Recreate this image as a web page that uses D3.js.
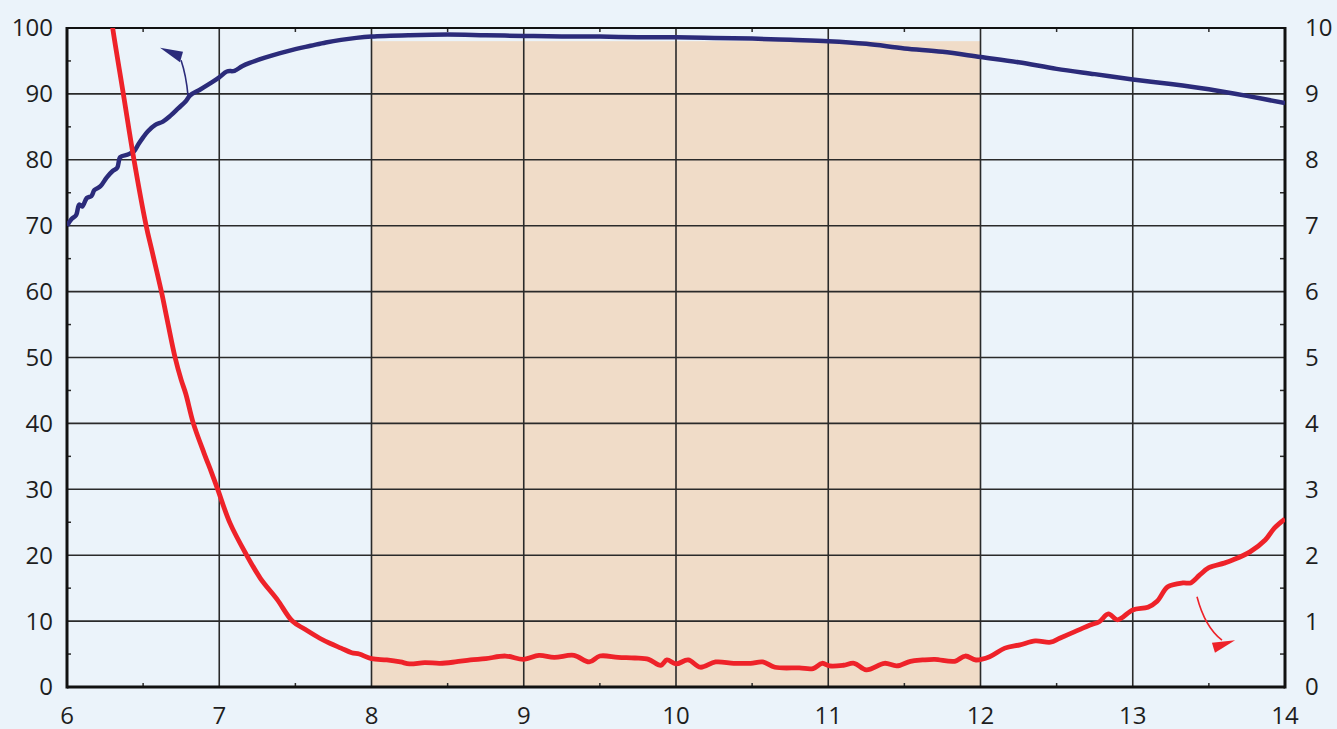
<!DOCTYPE html>
<html>
<head>
<meta charset="utf-8">
<script src="https://cdn.jsdelivr.net/npm/d3@7"></script>
<style>
  body { margin: 0; background: #ebf3fa; }
  text { font-family: "Open Sans", sans-serif; font-size: 24px; fill: #1e1e1e; }
</style>
</head>
<body>
<div id="vis"></div>
<script>
// chart size
const width = 1337, height = 729;
const margin = {top: 28, right: 52, bottom: 42, left: 67};

// axis tick values
const xTickValues = [6, 7, 8, 9, 10, 11, 12, 13, 14];
const leftTickValues = [0, 10, 20, 30, 40, 50, 60, 70, 80, 90, 100];
const rightTickValues = [0, 1, 2, 3, 4, 5, 6, 7, 8, 9, 10];

// shaded band [x0, x1, top value on left axis]
const bandX = [8, 12];
const bandTop = 98;

// blue series, left axis (0-100)
const blueX = [6.00, 6.03, 6.06, 6.08, 6.10, 6.13, 6.16, 6.18, 6.22, 6.26, 6.30, 6.33, 6.35, 6.40, 6.44, 6.47, 6.50, 6.53, 6.58, 6.63, 6.68, 6.73, 6.78, 6.81, 6.87, 6.94, 7.00, 7.05, 7.10, 7.15, 7.20, 7.30, 7.40, 7.50, 7.60, 7.70, 7.80, 7.90, 8.00, 8.25, 8.50, 8.75, 9.00, 9.25, 9.50, 9.75, 10.00, 10.25, 10.50, 10.75, 11.00, 11.25, 11.50, 11.75, 12.00, 12.25, 12.50, 12.75, 13.00, 13.25, 13.50, 13.75, 14.00];
const blueY = [70.0, 71.0, 71.6, 73.2, 72.9, 74.2, 74.5, 75.4, 76.0, 77.3, 78.3, 78.8, 80.4, 80.8, 81.3, 82.4, 83.4, 84.3, 85.3, 85.8, 86.7, 87.8, 88.9, 89.8, 90.6, 91.6, 92.5, 93.4, 93.5, 94.2, 94.7, 95.5, 96.2, 96.8, 97.3, 97.8, 98.2, 98.5, 98.7, 98.9, 99.0, 98.9, 98.8, 98.7, 98.7, 98.6, 98.6, 98.5, 98.4, 98.2, 98.0, 97.6, 96.9, 96.4, 95.6, 94.8, 93.8, 93.0, 92.2, 91.5, 90.7, 89.7, 88.6];

// red series, right axis (0-10)
const redX = [6.28, 6.30, 6.37, 6.44, 6.52, 6.56, 6.62, 6.66, 6.71, 6.75, 6.78, 6.83, 6.90, 6.95, 6.99, 7.07, 7.18, 7.27, 7.38, 7.48, 7.56, 7.66, 7.73, 7.80, 7.87, 7.92, 8.00, 8.10, 8.19, 8.25, 8.35, 8.45, 8.55, 8.65, 8.75, 8.88, 9.00, 9.10, 9.20, 9.33, 9.43, 9.50, 9.62, 9.73, 9.82, 9.90, 9.94, 10.00, 10.08, 10.16, 10.26, 10.38, 10.49, 10.57, 10.65, 10.81, 10.90, 10.96, 11.01, 11.10, 11.17, 11.25, 11.37, 11.45, 11.54, 11.62, 11.70, 11.83, 11.90, 11.97, 12.06, 12.16, 12.26, 12.36, 12.46, 12.52, 12.62, 12.72, 12.78, 12.84, 12.90, 13.00, 13.10, 13.16, 13.23, 13.33, 13.38, 13.44, 13.50, 13.60, 13.66, 13.77, 13.87, 13.93, 14.00];
const redY = [10.35, 10.0, 9.0, 8.0, 7.0, 6.6, 6.0, 5.55, 5.0, 4.66, 4.45, 4.0, 3.55, 3.25, 3.0, 2.49, 2.0, 1.65, 1.33, 1.0, 0.88, 0.74, 0.66, 0.59, 0.52, 0.50, 0.43, 0.41, 0.38, 0.35, 0.37, 0.36, 0.38, 0.41, 0.43, 0.47, 0.42, 0.48, 0.45, 0.48, 0.38, 0.47, 0.45, 0.44, 0.42, 0.33, 0.41, 0.35, 0.41, 0.30, 0.38, 0.36, 0.36, 0.38, 0.30, 0.29, 0.28, 0.36, 0.32, 0.33, 0.36, 0.26, 0.36, 0.32, 0.39, 0.41, 0.42, 0.39, 0.47, 0.41, 0.46, 0.59, 0.64, 0.70, 0.68, 0.74, 0.84, 0.94, 0.99, 1.11, 1.02, 1.17, 1.21, 1.30, 1.52, 1.58, 1.58, 1.70, 1.81, 1.88, 1.93, 2.05, 2.23, 2.41, 2.55];

// annotation arrows in data units: curve start, control, end, then triangle
const blueArrow = {curve: [[6.795, 89.7], [6.782, 92.9], [6.749, 95.1]],
                   head: [[6.611, 97.0], [6.762, 96.4], [6.742, 94.8]]};
const redArrow = {curve: [[13.422, 1.37], [13.474, 0.91], [13.586, 0.71]],
                  head: [[13.672, 0.71], [13.520, 0.67], [13.540, 0.52]]};

const svg = d3.select("#vis").append("svg")
    .attr("width", width)
    .attr("height", height);

svg.append("rect").attr("width", width).attr("height", height).attr("fill", "#ebf3fa");

const x = d3.scaleLinear().domain([6, 14]).range([margin.left, width - margin.right]);
const yL = d3.scaleLinear().domain([0, 100]).range([height - margin.bottom, margin.top]);
const yR = d3.scaleLinear().domain([0, 10]).range([height - margin.bottom, margin.top]);

const x0 = x.range()[0], x1 = x.range()[1];
const yB = yL.range()[0], yT = yL.range()[1];

// shaded band
svg.append("rect")
    .attr("x", x(bandX[0]))
    .attr("y", yL(bandTop))
    .attr("width", x(bandX[1]) - x(bandX[0]))
    .attr("height", yL(0) - yL(bandTop))
    .attr("fill", "#f0dcc8");

// grid
const grid = svg.append("g").attr("stroke", "#2a2a2a").attr("stroke-width", 1.6);
grid.selectAll(".vg").data(xTickValues.slice(1, -1)).join("line")
    .attr("x1", d => x(d)).attr("x2", d => x(d))
    .attr("y1", yT).attr("y2", yB);
grid.selectAll(".hg").data(leftTickValues.slice(1, -1)).join("line")
    .attr("x1", x0).attr("x2", x1)
    .attr("y1", d => yL(d)).attr("y2", d => yL(d));

// minor ticks
const ticks = svg.append("g").attr("stroke", "#2a2a2a").attr("stroke-width", 1.5);
const xMinor = d3.range(6.5, 14, 1);
ticks.selectAll(".xb").data(xMinor).join("line")
    .attr("x1", d => x(d)).attr("x2", d => x(d)).attr("y1", yB).attr("y2", yB - 4);
ticks.selectAll(".xt").data(xMinor).join("line")
    .attr("x1", d => x(d)).attr("x2", d => x(d)).attr("y1", yT).attr("y2", yT + 4);
ticks.selectAll(".yl").data(d3.range(5, 100, 10)).join("line")
    .attr("x1", x0).attr("x2", x0 + 4).attr("y1", d => yL(d)).attr("y2", d => yL(d));
ticks.selectAll(".yr").data(d3.range(0.5, 10, 1)).join("line")
    .attr("x1", x1).attr("x2", x1 - 5).attr("y1", d => yR(d)).attr("y2", d => yR(d));

// frame
svg.append("line").attr("x1", x0).attr("x2", x1).attr("y1", yT).attr("y2", yT)
    .attr("stroke", "#111").attr("stroke-width", 2.2);
svg.append("line").attr("x1", x0).attr("x2", x1).attr("y1", yB).attr("y2", yB)
    .attr("stroke", "#111").attr("stroke-width", 3);
svg.append("line").attr("x1", x0).attr("x2", x0).attr("y1", yT - 1).attr("y2", yB + 1.5)
    .attr("stroke", "#111").attr("stroke-width", 3);
svg.append("line").attr("x1", x1).attr("x2", x1).attr("y1", yT - 1).attr("y2", yB + 1.5)
    .attr("stroke", "#111").attr("stroke-width", 3);

// clip for series
svg.append("clipPath").attr("id", "plot").append("rect")
    .attr("x", x0).attr("y", yT).attr("width", x1 - x0).attr("height", yB - yT);

const blueData = blueX.map((d, i) => [d, blueY[i]]);
const redData = redX.map((d, i) => [d, redY[i]]);

const series = svg.append("g").attr("clip-path", "url(#plot)");
series.append("path")
    .datum(blueData)
    .attr("fill", "none")
    .attr("stroke", "#2b2b7a")
    .attr("stroke-width", 4.5)
    .attr("stroke-linejoin", "round")
    .attr("d", d3.line().curve(d3.curveCatmullRom.alpha(0.5)).x(d => x(d[0])).y(d => yL(d[1])));
series.append("path")
    .datum(redData)
    .attr("fill", "none")
    .attr("stroke", "#ee2229")
    .attr("stroke-width", 4.8)
    .attr("stroke-linejoin", "round")
    .attr("d", d3.line().curve(d3.curveCatmullRom.alpha(0.5)).x(d => x(d[0])).y(d => yR(d[1])));

// arrows
function drawArrow(a, ys, color) {
    const p = a.curve.map(d => [x(d[0]), ys(d[1])]);
    svg.append("path")
        .attr("d", `M${p[0][0]},${p[0][1]} Q${p[1][0]},${p[1][1]} ${p[2][0]},${p[2][1]}`)
        .attr("fill", "none").attr("stroke", color).attr("stroke-width", 1.6);
    svg.append("polygon")
        .attr("points", a.head.map(d => [x(d[0]), ys(d[1])].join(",")).join(" "))
        .attr("fill", color);
}
drawArrow(blueArrow, yL, "#2b2b7a");
drawArrow(redArrow, yR, "#ee2229");

// labels
svg.selectAll(".xl").data(xTickValues).join("text")
    .attr("x", d => x(d)).attr("y", 724)
    .attr("text-anchor", "middle")
    .text(d => d);
svg.selectAll(".ll").data(leftTickValues).join("text")
    .attr("x", 53).attr("y", d => yL(d)).attr("dy", "0.35em")
    .attr("text-anchor", "end")
    .text(d => d);
svg.selectAll(".rl").data(rightTickValues).join("text")
    .attr("x", 1305).attr("y", d => yR(d)).attr("dy", "0.35em")
    .attr("text-anchor", "start")
    .text(d => d);
</script>
</body>
</html>
